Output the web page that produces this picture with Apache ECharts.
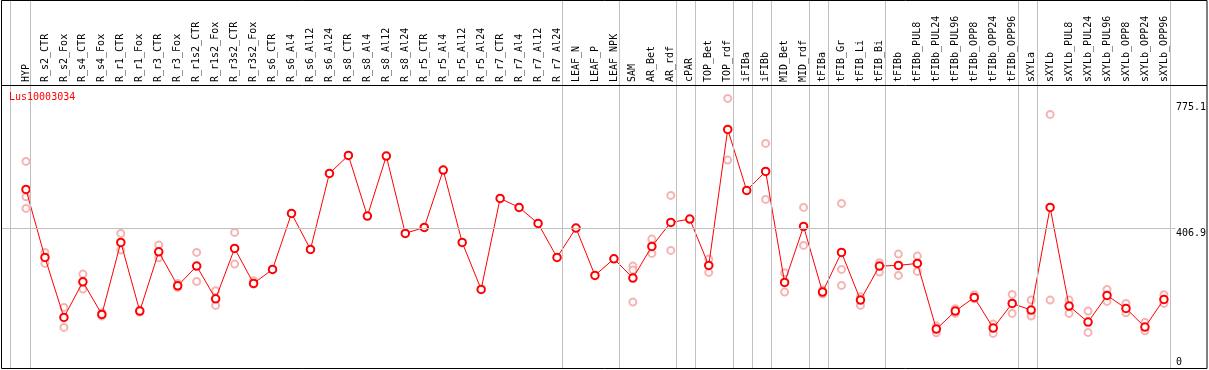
<!DOCTYPE html>
<html>
<head>
<meta charset="utf-8">
<script src="https://cdn.jsdelivr.net/npm/echarts@6/dist/echarts.min.js"></script>
<style>
html,body{margin:0;padding:0;background:#fff;}
#chart{width:1209px;height:370px;}
</style>
</head>
<body>
<div id="chart"></div>
<script>
const title = "Lus10003034";
const categories = ["HYP","R_s2_CTR","R_s2_Fox","R_s4_CTR","R_s4_Fox","R_r1_CTR","R_r1_Fox","R_r3_CTR","R_r3_Fox","R_r1s2_CTR","R_r1s2_Fox","R_r3s2_CTR","R_r3s2_Fox","R_s6_CTR","R_s6_Al4","R_s6_Al12","R_s6_Al24","R_s8_CTR","R_s8_Al4","R_s8_Al12","R_s8_Al24","R_r5_CTR","R_r5_Al4","R_r5_Al12","R_r5_Al24","R_r7_CTR","R_r7_Al4","R_r7_Al12","R_r7_Al24","LEAF_N","LEAF_P","LEAF_NPK","SAM","AR_Bet","AR_rdf","cPAR","TOP_Bet","TOP_rdf","iFIBa","iFIBb","MID_Bet","MID_rdf","tFIBa","tFIB_Gr","tFIB_Li","tFIB_Bi","tFIBb","tFIBb_PUL8","tFIBb_PUL24","tFIBb_PUL96","tFIBb_OPP8","tFIBb_OPP24","tFIBb_OPP96","sXYLa","sXYLb","sXYLb_PUL8","sXYLb_PUL24","sXYLb_PUL96","sXYLb_OPP8","sXYLb_OPP24","sXYLb_OPP96"];
const means = [519.9,321.2,145.8,249.9,154.6,365.0,164.2,337.5,238.2,295.7,200.2,347.5,245.2,286.1,449.7,344.5,566.6,619.2,441.8,617.2,391.3,408.8,576.3,365.0,227.6,493.6,467.3,420.5,321.2,406.8,268.6,317.1,260.7,353.3,423.4,433.1,297.8,695.2,516.9,572.5,248.1,411.7,219.8,335.8,196.4,295.7,297.8,303.6,111.6,164.2,204.3,114.6,186.7,167.2,467.3,178.8,132.1,210.1,172.1,117.5,198.4];
const replicates = [
 [601.7,498.2,464.3],[335.8,303.6],[175.0,116.6],[272.4,228.5],[159.3,149.6],[391.3,342.5],[167.2,161.3],[357.1,320.0],[245.2,233.5],[335.8,251.0],
 [223.6,180.9],[394.2,301.6],[252.8,243.1],[],[],[],[],[],[],[],
 [],[],[],[],[],[],[],[],[],[],
 [],[],[295.7,284.1,190.5],[374.6,332.8],[502.3,341.6],[],[316.2,277.3],[785.8,605.5],[],[654.3,490.6],
 [276.2,219.8],[467.3,356.2],[225.6,213.9],[479.0,286.1,239.3],[206.0,180.9],[305.4,278.2],[330.8,268.6],[325.0,280.2],[120.4,100.8],[171.0,157.5],
 [211.9,200.2],[126.2,99.1],[213.0,157.5],[196.4,155.5,149.6],[739.0,196.4],[196.4,157.5],[164.2,102.0],[227.6,192.6],[186.7,159.3],[131.2,106.7],
 [211.9,186.7]
];
const groupEnds = [0,28,31,34,35,37,38,39,41,42,45,52,53,60];
const yTickLabels = [406.9, 775.1];
const yZeroLabel = [0];
const yMax = 825;

const MONO = "'DejaVu Sans Mono', 'Liberation Mono', monospace";
const repData = [];
replicates.forEach((arr, i) => arr.forEach(v => repData.push([categories[i], v])));

const sepOffset = 0.23;
const leadingSeparator = -0.84;
const separators = [leadingSeparator].concat(groupEnds.map(i => i + sepOffset));

// grid geometry
const step = 19, firstCenter = 26;
const g0Left = firstCenter - step / 2;
const g0Width = step * categories.length;
const g0Right = 1209 - g0Left - g0Width;
const plotTop = 85, plotHeight = 282.3;

const chart = echarts.init(document.getElementById('chart'), null, {renderer: 'canvas'});
chart.setOption({
  animation: false,
  backgroundColor: '#fff',
  title: {
    text: title, left: 9, top: 92, padding: 0, z: 10,
    textStyle: {color: '#ff0000', fontSize: 10, fontWeight: 'normal', fontFamily: MONO}
  },
  grid: [
    {left: g0Left, width: g0Width, top: plotTop, height: plotHeight},
    {left: 1, right: g0Right, top: 0, bottom: 1},
    {left: 1, right: g0Right, top: plotTop, height: plotHeight}
  ],
  xAxis: [
    {
      type: 'category', gridIndex: 0, position: 'top', data: categories, boundaryGap: true,
      axisLine: {show: false}, axisTick: {show: false}, splitLine: {show: false},
      axisLabel: {rotate: 90, interval: 0, margin: 3, color: '#000', fontSize: 10, fontFamily: MONO}
    },
    {
      type: 'value', gridIndex: 1, show: false,
      min: (1 - firstCenter) / step, max: (1209 - g0Right - firstCenter) / step
    },
    {
      type: 'value', gridIndex: 2, show: false,
      min: 0, max: 1
    }
  ],
  yAxis: [
    {
      type: 'value', gridIndex: 0, position: 'right', min: 0, max: yMax,
      axisLine: {show: false}, axisTick: {show: false}, splitLine: {show: false},
      axisLabel: {customValues: yTickLabels, verticalAlign: 'top', margin: 2.5, color: '#000', fontSize: 10, fontFamily: MONO,
        formatter: v => String(v)}
    },
    {
      type: 'value', gridIndex: 0, position: 'right', min: 0, max: yMax,
      axisLine: {show: false}, axisTick: {show: false}, splitLine: {show: false},
      axisLabel: {customValues: yZeroLabel, verticalAlign: 'bottom', margin: 2.5, color: '#000', fontSize: 10, fontFamily: MONO}
    },
    {type: 'value', gridIndex: 1, show: false, min: 0, max: 1},
    {type: 'value', gridIndex: 2, show: false, min: 0, max: yMax}
  ],
  series: [
    {
      type: 'line', xAxisIndex: 1, yAxisIndex: 2, data: [], z: 1, silent: true,
      markLine: {
        silent: true, symbol: 'none', label: {show: false}, animation: false,
        lineStyle: {color: '#c0c0c0', type: 'solid', width: 1},
        data: separators.map(x => ({xAxis: x}))
      }
    },
    {
      type: 'line', xAxisIndex: 2, yAxisIndex: 3, data: [], z: 1, silent: true,
      markLine: {
        silent: true, symbol: 'none', label: {show: false}, animation: false,
        lineStyle: {color: '#c0c0c0', type: 'solid', width: 1},
        data: [{yAxis: yTickLabels[0]}]
      }
    },
    {
      type: 'scatter', xAxisIndex: 0, yAxisIndex: 0, data: repData, z: 2,
      symbol: 'emptyCircle', symbolSize: 7,
      itemStyle: {color: '#f2a0a0', borderColor: '#f2a0a0', borderWidth: 1.1}
    },
    {
      type: 'line', xAxisIndex: 0, yAxisIndex: 0, data: means, z: 3,
      symbol: 'emptyCircle', symbolSize: 7.5, showAllSymbol: true,
      lineStyle: {color: '#ff0000', width: 1},
      itemStyle: {color: '#ff0000', borderColor: '#e00000', borderWidth: 1.4}
    }
  ],
  graphic: {
    elements: [
      {type: 'rect', z: 100, silent: true,
       shape: {x: 1.5, y: 0.5, width: 1205.5, height: 368},
       style: {fill: null, stroke: '#000', lineWidth: 1}},
      {type: 'line', z: 100, silent: true,
       shape: {x1: 1, y1: 85.5, x2: 1207, y2: 85.5},
       style: {stroke: '#000', lineWidth: 1}}
    ]
  }
});
</script>
</body>
</html>
